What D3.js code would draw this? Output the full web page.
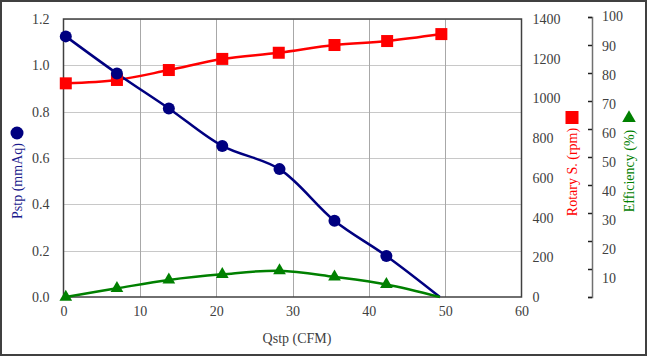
<!DOCTYPE html>
<html><head><meta charset="utf-8">
<script src="https://cdn.jsdelivr.net/npm/d3@7"></script>
<style>body{margin:0;background:#fff}svg{display:block}text{font-family:'Liberation Serif','DejaVu Serif',serif}</style>
</head><body><svg id="c" width="647" height="356"></svg>
<script>
const qstp = [0.3, 7.0, 13.8, 20.8, 28.3, 35.5, 42.3, 49.3];
const pstp = [1.125, 0.965, 0.814, 0.652, 0.552, 0.329, 0.177, 0.0];
const rpmQ = [0.3, 7.0, 13.8, 20.8, 28.2, 35.5, 42.4, 49.5];
const rpm = [1076, 1093, 1143, 1199, 1230, 1269, 1289, 1324];
const eff = [0.0, 3.1, 6.1, 8.1, 9.4, 7.2, 4.5, 0.0];
const xTicks = [0, 10, 20, 30, 40, 50, 60];
const pTicks = [0, 0.2, 0.4, 0.6, 0.8, 1.0, 1.2];
const rTicks = [0, 200, 400, 600, 800, 1000, 1200, 1400];
const eTicks = [10, 20, 30, 40, 50, 60, 70, 80, 90, 100];

const FF = "'Liberation Serif', 'DejaVu Serif', serif";
const svg = d3.select("#c");
const L = 63.5, R = 521.5, T = 19, B = 297;
const x = d3.scaleLinear().domain([0, 60]).range([L, R]);
const yP = d3.scaleLinear().domain([0, 1.2]).range([B, T]);
const yR = d3.scaleLinear().domain([0, 1400]).range([B, T]);
const yE = d3.scaleLinear().domain([0, 100]).range([B, 17]);
const yEl = d3.scaleLinear().domain([0, 100]).range([307, 16.5]);

svg.append("rect").attr("x", 1).attr("y", 1).attr("width", 645).attr("height", 354)
  .attr("fill", "#fff").attr("stroke", "#404040").attr("stroke-width", 2);

// grid
svg.append("g").selectAll("line").data(pTicks.slice(1)).join("line")
  .attr("x1", L).attr("x2", R).attr("y1", d => Math.round(yP(d)) + 0.5).attr("y2", d => Math.round(yP(d)) + 0.5)
  .attr("stroke", "#c8c8c8").attr("stroke-width", 1);
svg.append("g").selectAll("line").data(xTicks.slice(1, -1)).join("line")
  .attr("x1", d => Math.round(x(d)) + 0.5).attr("x2", d => Math.round(x(d)) + 0.5).attr("y1", T).attr("y2", B)
  .attr("stroke", "#a8a8a8").attr("stroke-width", 1);
svg.append("rect").attr("x", L).attr("y", T).attr("width", R - L).attr("height", B - T)
  .attr("fill", "none").attr("stroke", "#404040").attr("stroke-width", 1.5);

const tc = "#404040";
function styleAxis(g) {
  g.attr("font-family", FF);
  g.selectAll("text").attr("fill", tc).attr("font-family", FF).style("font-family", FF).style("font-size", "14px");
}
// left axis
const gl = svg.append("g").attr("transform", `translate(${L},0)`)
  .call(d3.axisLeft(yP).tickValues(pTicks).tickFormat(d3.format(".1f")).tickSize(0).tickPadding(14));
gl.select(".domain").remove(); styleAxis(gl);
// bottom axis
const gb = svg.append("g").attr("transform", `translate(0,${B})`)
  .call(d3.axisBottom(x).tickValues(xTicks).tickFormat(d3.format("d")).tickSize(0).tickPadding(9));
gb.select(".domain").remove(); styleAxis(gb);
// right rpm axis
const gr = svg.append("g").attr("transform", `translate(${R},0)`)
  .call(d3.axisRight(yR).tickValues(rTicks).tickFormat(d3.format("d")).tickSize(0).tickPadding(11));
gr.select(".domain").remove(); styleAxis(gr);
// efficiency axis
const EX = 592;
const ge = svg.append("g").attr("transform", `translate(${EX},0)`)
  .call(d3.axisLeft(yE).tickValues([0].concat(eTicks)).tickSize(4).tickFormat(""));
ge.select(".domain").attr("stroke", "#707070").attr("stroke-width", 1.5);
ge.selectAll(".tick line").attr("stroke", "#202020").attr("stroke-width", 1.5);
const gel = svg.append("g").attr("transform", `translate(${EX},0)`)
  .call(d3.axisRight(yEl).tickValues(eTicks).tickFormat(d3.format("d")).tickSize(0).tickPadding(10));
gel.select(".domain").remove(); styleAxis(gel);

// lines
function series(xs, ys, ysc, color) {
  const pts = xs.map((d, i) => [x(d), ysc(ys[i])]);
  svg.append("path").attr("d", d3.line().curve(d3.curveCatmullRom.alpha(0.5))(pts))
    .attr("fill", "none").attr("stroke", color).attr("stroke-width", 2.5);
  return pts;
}
const pr = series(rpmQ, rpm, yR, "#ff0000");
const pp = series(qstp, pstp, yP, "#000080").slice(0, -1);
const pe = series(qstp, eff, yE, "#008000").slice(0, -1);
svg.append("g").selectAll("rect").data(pr).join("rect")
  .attr("x", d => d[0] - 6).attr("y", d => d[1] - 6).attr("width", 12).attr("height", 12).attr("fill", "#ff0000");
svg.append("g").selectAll("circle").data(pp).join("circle")
  .attr("cx", d => d[0]).attr("cy", d => d[1]).attr("r", 6).attr("fill", "#000080");
const tri = d3.symbol().type(d3.symbolTriangle).size(70);
svg.append("g").selectAll("path").data(pe).join("path")
  .attr("transform", d => `translate(${d[0]},${d[1]})`).attr("d", tri).attr("fill", "#008000");

// titles
function title(tr, color, txt) {
  svg.append("text").attr("transform", tr).attr("text-anchor", "middle")
    .attr("fill", color).attr("font-family", FF).style("font-size", "14px").text(txt);
}
title("translate(297,343)", tc, "Qstp (CFM)");
title("translate(22,181) rotate(-90)", "#1a1a8c", "Pstp (mmAq)");
svg.append("circle").attr("cx", 17).attr("cy", 133).attr("r", 6.5).attr("fill", "#000080");
title("translate(577,172) rotate(-90)", "#ff0000", "Rotary S. (rpm)");
svg.append("rect").attr("x", 565.5).attr("y", 111).attr("width", 13).attr("height", 13).attr("fill", "#ff0000");
title("translate(634,171) rotate(-90)", "#008000", "Efficiency (%)");
svg.append("path").attr("transform", "translate(629,118)").attr("d", d3.symbol().type(d3.symbolTriangle).size(80)).attr("fill", "#008000");
</script></body></html>
